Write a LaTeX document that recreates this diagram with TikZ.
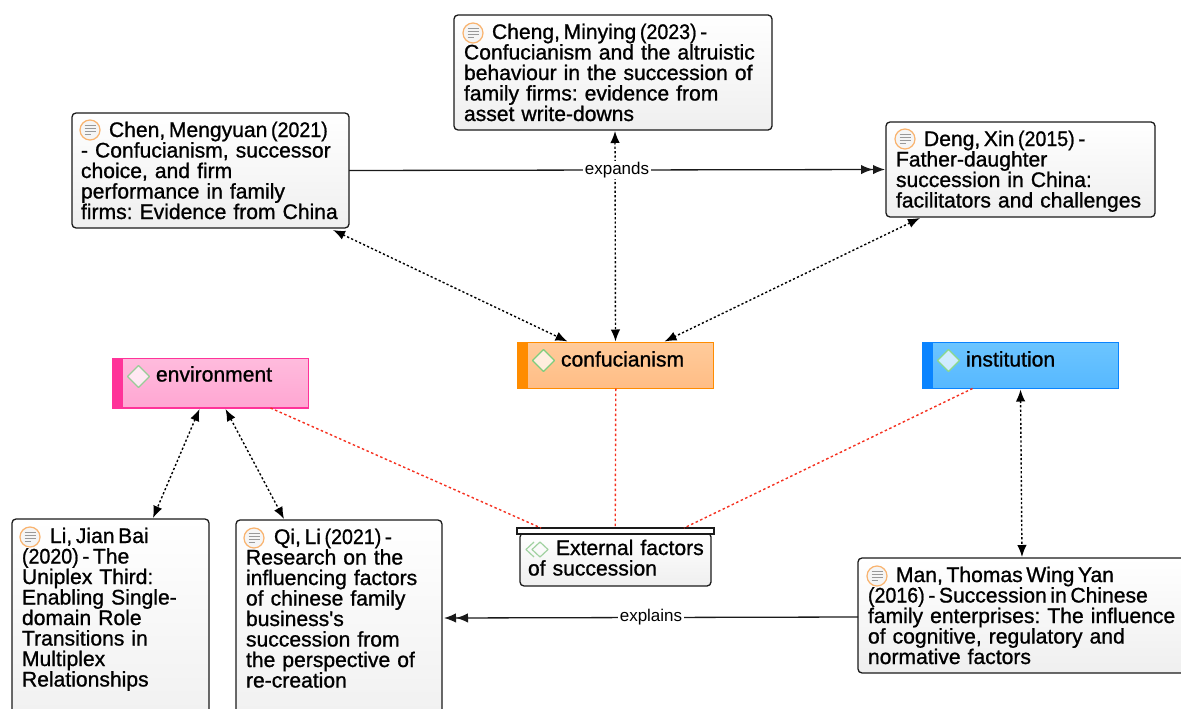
\documentclass[tikz,border=0pt]{standalone}
\usepackage{fontspec}
\setmainfont{Liberation Sans}
\newfontfamily\cardfont{Liberation Sans}[RawFeature={embolden=1.0}]
\usetikzlibrary{arrows.meta}
\frenchspacing
\newcommand{\yearmark}[1]{\scalebox{0.93}[1]{#1}}
\newcommand{\tightline}[1]{\mbox{\spaceskip=3.6pt #1}}
\definecolor{edgeink}{HTML}{1A1A1A}
\definecolor{cardlow}{HTML}{EFEFEF}
\definecolor{redlink}{HTML}{F5301F}
\definecolor{orangemain}{HTML}{FF8C00}
\definecolor{orangetop}{HTML}{FFCB9B}
\definecolor{orangelow}{HTML}{FFBD85}
\definecolor{pinkmain}{HTML}{FF3399}
\definecolor{pinktop}{HTML}{FFBBDD}
\definecolor{pinklow}{HTML}{FFA6D2}
\definecolor{bluemain}{HTML}{0A84FF}
\definecolor{bluetop}{HTML}{6CC5FF}
\definecolor{bluelow}{HTML}{56B8FF}
\tikzset{
  x=1pt,y=-1pt,
  card/.style={draw=edgeink,line width=1.3pt,rounded corners=4pt,top color=white,bottom color=cardlow,
    anchor=north west,align=left,inner xsep=10pt,inner ysep=0pt,outer sep=0pt,
    font=\cardfont\fontsize{21.1}{20.5}\selectfont\frenchspacing,text=black,text height=24pt},
  concept/.style={line width=1.2pt,anchor=north west,align=left,inner sep=0pt,outer sep=0pt,
    font=\cardfont\fontsize{21.1}{20.5}\selectfont,text=black,text width=196pt},
  dotlink/.style={line width=1.4pt,draw=black,dash pattern=on 2.2pt off 2.2pt,
    {Latex[length=12pt,width=9.5pt]}-{Latex[length=12pt,width=9.5pt]}},
  redline/.style={line width=1.4pt,draw=redlink,dash pattern=on 2.5pt off 2.5pt},
  solidlink/.style={line width=1.3pt,draw=edgeink,
    -{Latex[length=12pt,width=9.5pt]Latex[length=12pt,width=9.5pt]}},
  linklabel/.style={fill=white,inner xsep=1.5pt,inner ysep=1pt,font=\fontsize{17}{20}\selectfont,text=black},
  paper/.pic={
    \draw[draw=orange!55!white!90!brown,fill=white!96!black,line width=1.2pt] (0,0) circle (10pt);
    \draw[gray!80,line width=0.9pt] (-5.5,-4.5)--(5.5,-4.5) (-5.5,-1.5)--(5.5,-1.5) (-5.5,1.5)--(5.5,1.5) (-5.5,4.5)--(1,4.5);
  },
  gem/.pic={
    \draw[draw=#1,fill=white,fill opacity=0.7,line width=1.2pt,line join=round] (-11,0)--(0,-11)--(11,0)--(0,11)--cycle;
  },
}
\begin{document}
\begin{tikzpicture}
\useasboundingbox (0,0) rectangle (1181,709);
\clip (0,0) rectangle (1181,709);

% literature cards
\node[card,inner xsep=9pt,text width=259pt,text depth=91pt] (chen) at (72,113)
  {\hspace*{28pt}\tightline{Chen, Mengyuan \yearmark{(2021)}}\\- Confucianism, successor\\choice, and firm\\performance in family\\\mbox{firms: Evidence from China}};
\node[card,text width=298pt,text depth=91pt] (cheng) at (454,15)
  {\hspace*{28pt}\tightline{Cheng, Minying \yearmark{(2023)} -}\\Confucianism and the altruistic\\behaviour in the succession of\\family firms: evidence from\\asset write-downs};
\node[card,text width=249pt,text depth=71pt] (deng) at (886,122)
  {\hspace*{28pt}\tightline{Deng, Xin \yearmark{(2015)} -}\\Father-daughter\\succession in China:\\facilitators and challenges};
\node[card,text width=177pt,text depth=196pt] (li) at (12,519)
  {\hspace*{28pt}\tightline{Li, Jian Bai}\\\tightline{\yearmark{(2020)} - The}\\Uniplex Third:\\Enabling Single-\\domain Role\\Transitions in\\Multiplex\\Relationships};
\node[card,text width=186pt,text depth=196pt] (qi) at (236,520)
  {\hspace*{28pt}\tightline{Qi, Li \yearmark{(2021)} -}\\Research on the\\influencing factors\\of chinese family\\business's\\succession from\\the perspective of\\re-creation};
\node[card,text width=330pt,text depth=91pt] (man) at (858,558)
  {\hspace*{28pt}\tightline{Man, Thomas Wing Yan}\\\tightline{\yearmark{(2016)} - Succession in Chinese}\\family enterprises: The influence\\of cognitive, regulatory and\\normative factors};

% concept bars
\node[concept,draw=orangemain,top color=orangetop,bottom color=orangelow,text height=24pt,text depth=22pt] (conf) at (517.5,342.5)
  {\hspace*{43.5pt}confucianism};
\node[concept,draw=pinkmain,top color=pinktop,bottom color=pinklow,text height=23pt,text depth=26.5pt] (env) at (112.5,358.5)
  {\hspace*{43.5pt}environment};
\node[concept,draw=bluemain,top color=bluetop,bottom color=bluelow,text height=24pt,text depth=22pt] (inst) at (922.5,342.5)
  {\hspace*{43.5pt}institution};
\fill[orangemain] (conf.north west) rectangle ([xshift=10pt]conf.south west);
\fill[pinkmain] (env.north west) rectangle ([xshift=10pt]env.south west);
\fill[bluemain] (inst.north west) rectangle ([xshift=10pt]inst.south west);
\pic at ([xshift=26pt,yshift=-18pt]conf.north west) {gem={green!45!gray!70}};
\pic at ([xshift=26pt,yshift=-18pt]env.north west) {gem={green!35!gray!60}};
\pic at ([xshift=26pt,yshift=-18pt]inst.north west) {gem={green!50!gray!60}};

% group node
\node[card,inner xsep=8pt,text width=175pt,text height=22pt,text depth=31pt,align=left] (ext) at (520,533)
  {\makebox[175pt][l]{\hspace*{28pt}External factors}\\of succession};
\node[draw=edgeink,fill=white,line width=1.2pt,anchor=north west,minimum width=197pt,minimum height=6pt,inner sep=0pt,outer sep=0pt] (bar) at (517,528) {};
\draw[green!35!gray!55,line width=1.2pt,line join=round] (534,542)--(526,549.5)--(534,557);
\draw[green!35!gray!55,line width=1.2pt,line join=round] (540,542)--(532,549.5)--(540,557)--(548,549.5)--cycle;

% paper icons
\pic at ([xshift=18pt,yshift=-17pt]chen.north west) {paper};
\pic at ([xshift=19pt,yshift=-18pt]cheng.north west) {paper};
\pic at ([xshift=19pt,yshift=-17pt]deng.north west) {paper};
\pic at ([xshift=18pt,yshift=-18pt]li.north west) {paper};
\pic at ([xshift=18pt,yshift=-18pt]qi.north west) {paper};
\pic at ([xshift=19pt,yshift=-18pt]man.north west) {paper};

% red links
\draw[redline] ([xshift=158pt]env.south west) -- ([xshift=24pt]bar.north west);
\draw[redline] ([xshift=0.3pt]conf.south) -- ([xshift=-0.3pt]bar.north);
\draw[redline] ([xshift=50pt]inst.south west) -- ([xshift=167pt]bar.north west);

% dotted links
\draw[dotlink] ([xshift=-16pt,yshift=-2pt]chen.south east) -- ([xshift=-48pt,yshift=1pt]conf.north);
\draw[dotlink] ([xshift=2pt,yshift=-1pt]cheng.south) -- ([yshift=1pt]conf.north);
\draw[dotlink] ([xshift=34pt,yshift=-1pt]deng.south west) -- ([xshift=49pt,yshift=1pt]conf.north);
\draw[dotlink] ([xshift=87pt,yshift=-1pt]env.south west) -- ([xshift=141pt,yshift=1pt]li.north west);
\draw[dotlink] ([xshift=113pt,yshift=-1pt]env.south west) -- ([xshift=48pt,yshift=1pt]qi.north west);
\draw[dotlink] ([yshift=-1pt]inst.south) -- ([xshift=164pt,yshift=1pt]man.north west);

% solid links
\draw[solidlink] (chen.east) -- node[linklabel]{expands} ([xshift=-1pt]deng.west);
\draw[solidlink] ([yshift=-1.5pt]man.west) -- node[linklabel]{explains} ([xshift=2pt,yshift=-98pt]qi.north east);
\end{tikzpicture}
\end{document}
